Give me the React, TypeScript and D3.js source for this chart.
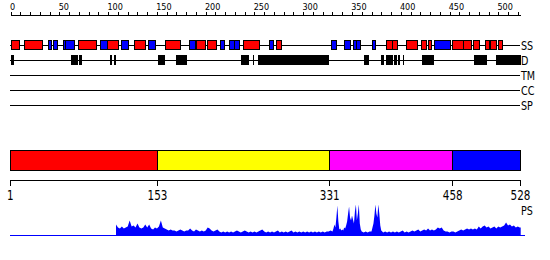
import React from 'react';
import * as d3 from 'd3';

// ---------- data ----------
const rulerEnd = 523;
const rulerTicks = d3.range(0, 521, 10);
const rulerLabels = [0, 50, 100, 150, 200, 250, 300, 350, 400, 450, 500];

const trackNames = ['SS', 'D', 'TM', 'CC', 'SP'];

const helices: [number, number][] = [
  [1, 9], [14, 33], [70, 88], [99, 111], [127, 138], [159, 174], [191, 200], [202, 211],
  [239, 255], [273, 278], [385, 392], [392, 397], [406, 417], [421, 426], [428, 432],
  [453, 464], [464, 473], [475, 481], [487, 491], [492, 498], [500, 504],
];
const strands: [number, number][] = [
  [39, 42], [44, 48], [54, 56], [56, 65], [92, 99], [114, 121], [141, 149], [183, 190],
  [215, 219], [224, 229], [230, 235], [265, 270], [329, 334], [342, 348], [352, 355],
  [355, 359], [371, 374], [435, 451],
];
const disorder: [number, number][] = [
  [0, 3], [62, 69], [70, 73], [102, 103.5], [106, 108], [151, 158], [170, 181], [236, 244],
  [248, 249.5], [254, 326], [362, 367], [380, 383], [385, 386.5], [387, 392], [393, 396],
  [397, 399], [402, 403.5], [422, 434], [475, 488], [498, 523],
];

const domainStarts = [1, 153, 331, 458];
const domainEnds = [153, 331, 458, 528];
const domainColors = ['#ff0000', '#ffff00', '#ff00ff', '#0000ff'];
const domainTicks = [1, 153, 331, 458, 528];
const seqLength = 528;

const psProfile: [number, number][] = [
  [108, 11], [110, 8], [112, 7], [114, 9], [116, 7], [118, 8], [120, 9], [122, 15], [124, 9], [126, 10],
  [128, 8], [130, 12], [132, 8], [134, 7], [136, 8], [138, 11], [140, 8], [142, 11], [144, 7], [146, 6],
  [148, 8], [150, 7], [152, 9], [154, 15], [156, 8], [158, 7], [160, 6], [162, 5], [164, 6], [166, 5],
  [168, 5], [170, 4], [172, 5], [174, 6], [176, 5], [178, 4], [180, 5], [182, 5], [184, 7], [186, 5],
  [188, 4], [190, 6], [192, 5], [194, 4], [196, 5], [198, 4], [200, 5], [202, 8], [204, 7], [206, 5],
  [208, 4], [210, 5], [212, 6], [214, 4], [216, 3], [218, 4], [220, 3], [222, 4], [224, 3], [226, 4],
  [228, 3], [230, 4], [232, 5], [234, 4], [236, 3], [238, 4], [240, 5], [242, 4], [244, 3], [246, 4],
  [248, 3], [250, 4], [252, 3], [254, 4], [256, 5], [258, 6], [260, 4], [262, 3], [264, 4], [266, 3],
  [268, 4], [270, 3], [272, 4], [274, 5], [276, 3], [278, 4], [280, 3], [282, 4], [284, 3], [286, 4],
  [288, 5], [290, 3], [292, 4], [294, 3], [296, 4], [298, 3], [300, 4], [302, 3], [304, 4], [306, 3],
  [308, 4], [310, 3], [312, 4], [314, 3], [316, 4], [318, 3], [320, 4], [322, 3], [324, 4], [326, 4],
  [328, 5], [330, 4], [331, 7], [332, 11], [333, 8], [334, 18], [335, 30], [336, 14], [337, 6], [338, 7],
  [339, 5], [340, 6], [341, 5], [342, 8], [343, 7], [344, 10], [345, 14], [346, 22], [347, 29], [348, 18],
  [349, 15], [350, 20], [351, 16], [352, 12], [353, 24], [354, 31], [355, 15], [356, 22], [357, 31], [358, 12],
  [359, 6], [360, 4], [362, 3], [364, 4], [366, 3], [368, 4], [370, 4], [371, 8], [372, 12], [373, 20],
  [374, 31], [375, 22], [376, 18], [377, 31], [378, 22], [379, 10], [380, 5], [382, 3], [384, 4], [386, 3],
  [388, 4], [390, 3], [392, 4], [394, 3], [396, 4], [398, 3], [400, 4], [402, 5], [404, 3], [406, 4],
  [408, 3], [410, 4], [412, 5], [414, 4], [416, 5], [418, 6], [420, 4], [422, 5], [424, 6], [426, 5],
  [428, 7], [430, 5], [432, 6], [434, 5], [436, 6], [438, 8], [440, 7], [442, 8], [444, 5], [446, 4],
  [448, 4], [450, 3], [452, 4], [454, 4], [456, 3], [458, 4], [460, 5], [462, 6], [464, 5], [466, 6],
  [468, 7], [470, 6], [472, 7], [474, 6], [476, 7], [478, 6], [480, 9], [482, 7], [484, 9], [486, 10],
  [488, 8], [490, 9], [492, 7], [494, 8], [496, 9], [498, 7], [500, 9], [502, 8], [504, 9], [506, 10],
  [508, 13], [510, 10], [512, 11], [514, 9], [516, 10], [518, 8], [520, 9], [522, 8], [523, 8],
];
const psMax = 32;

// ---------- layout ----------
const W = 550;
const H = 260;
const FONT = 'DejaVu Sans, sans-serif';

const Label = ({ x, y, size, sx, anchor = 'start', children }: any) => (
  <text
    transform={`translate(${x},${y}) scale(${sx},1)`}
    textAnchor={anchor}
    fontSize={size}
    fontFamily={FONT}
    fill="#000"
  >
    {children}
  </text>
);

export default function App() {
  const xr = d3.scaleLinear().domain([0, rulerEnd]).range([10.7, 520.7]);
  const xd = d3.scaleLinear().domain([1, seqLength]).range([10.3, 520.5]);
  const trackY = d3.scalePoint<string>().domain(trackNames).range([45.5, 105.5]);
  const yPs = d3.scaleLinear().domain([0, psMax]).range([235.5, 203.5]);

  const area = d3
    .area<[number, number]>()
    .x((d) => xr(d[0]))
    .y0(yPs(0))
    .y1((d) => yPs(d[1]));

  const ssY = trackY('SS')!;
  const dY = trackY('D')!;

  return (
    <svg
      width={W}
      height={H}
      style={{ position: 'absolute', left: 0, top: 0, background: '#fff' }}
    >
      <rect x={0} y={0} width={W} height={H} fill="#fff" />

      {/* ruler */}
      <line x1={xr(0)} x2={xr(rulerEnd)} y1={15.5} y2={15.5} stroke="#000" shapeRendering="crispEdges" />
      {rulerTicks.map((t) => (
        <line key={t} x1={Math.round(xr(t)) + 0.5} x2={Math.round(xr(t)) + 0.5} y1={12} y2={16} stroke="#000" shapeRendering="crispEdges" />
      ))}
      {rulerLabels.map((t) => (
        <Label key={t} x={xr(t) - 0.8} y={10} size={9.2} sx={0.88}>
          {t}
        </Label>
      ))}

      {/* track lines + labels */}
      {trackNames.map((n) => (
        <g key={n}>
          <line x1={10} x2={520} y1={trackY(n)} y2={trackY(n)} stroke="#000" shapeRendering="crispEdges" />
          <Label x={521} y={trackY(n)! + 4.3} size={12} sx={0.8}>
            {n}
          </Label>
        </g>
      ))}

      {/* secondary structure */}
      {helices.map(([a, b], i) => (
        <rect key={'h' + i} x={xr(a)} y={ssY - 5} width={Math.max(xr(b) - xr(a), 1)} height={9} fill="#ff0000" stroke="#000" shapeRendering="crispEdges" />
      ))}
      {strands.map(([a, b], i) => (
        <rect key={'s' + i} x={xr(a)} y={ssY - 5} width={Math.max(xr(b) - xr(a), 1)} height={9} fill="#0000ff" stroke="#000" shapeRendering="crispEdges" />
      ))}

      {/* disorder */}
      {disorder.map(([a, b], i) => (
        <rect key={'d' + i} x={xr(a)} y={dY - 5.5} width={Math.max(xr(b) - xr(a), 1.5)} height={10} fill="#000" shapeRendering="crispEdges" />
      ))}

      {/* domains */}
      {domainStarts.map((s, i) => (
        <rect key={'dom' + i} x={xd(s)} y={150.5} width={xd(domainEnds[i]) - xd(s)} height={19.5} fill={domainColors[i]} stroke="#000" shapeRendering="crispEdges" />
      ))}
      <line x1={xd(1)} x2={xd(seqLength)} y1={180.5} y2={180.5} stroke="#000" shapeRendering="crispEdges" />
      {domainTicks.map((t) => (
        <g key={'dt' + t}>
          <line x1={xd(t)} x2={xd(t)} y1={180.5} y2={186} stroke="#000" shapeRendering="crispEdges" />
          <Label x={xd(t)} y={200} size={13.5} sx={0.77} anchor="middle">
            {t}
          </Label>
        </g>
      ))}

      {/* PS profile */}
      <line x1={10} x2={525} y1={235.5} y2={235.5} stroke="#0000ff" shapeRendering="crispEdges" />
      <path d={area(psProfile) || ''} fill="#0000ff" stroke="none" />
      <Label x={521} y={215} size={12} sx={0.8}>
        PS
      </Label>
    </svg>
  );
}
